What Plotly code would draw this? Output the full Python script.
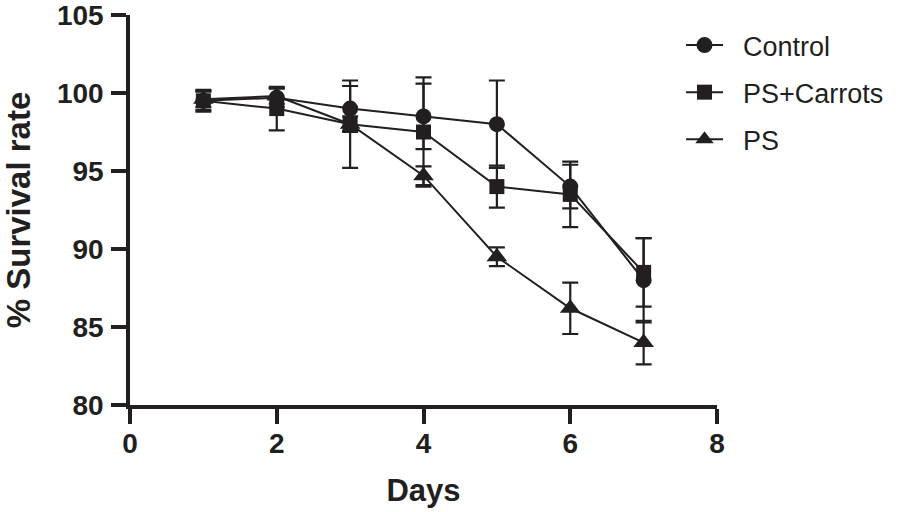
import plotly.graph_objects as go

days = [1, 2, 3, 4, 5, 6, 7]
control = [99.5, 99.7, 99.0, 98.5, 98.0, 94.0, 88.0]
control_err = [0.7, 0.6, 1.45, 2.1, 2.8, 1.4, 2.7]
carrots = [99.5, 99.0, 98.0, 97.5, 94.0, 93.5, 88.5]
carrots_err = [0.6, 1.4, 2.8, 3.5, 1.35, 2.1, 2.2]
ps = [99.6, 99.8, 98.0, 94.7, 89.5, 86.2, 84.0]
ps_err = [0.5, 0.5, 0.5, 0.6, 0.6, 1.65, 1.4]

series_names = ["Control", "PS+Carrots", "PS"]
x_ticks = [0, 2, 4, 6, 8]
y_ticks = [80, 85, 90, 95, 100, 105]

INK = "#231f20"
FONT = "Liberation Sans, Arial, Helvetica, sans-serif"
PAD = "\u00a0\u00a0"

series = [
    (series_names[0], control, control_err, "circle", 16),
    (series_names[1], carrots, carrots_err, "square", 15),
    (series_names[2], ps, ps_err, "triangle-up", 18),
]

fig = go.Figure()
for name, vals, errs, sym, size in series:
    fig.add_trace(go.Scatter(
        x=days, y=vals, name=PAD + name, mode="lines+markers", legendgroup=name,
        line=dict(color=INK, width=2),
        marker=dict(symbol=sym, size=size, color=INK, line=dict(width=0)),
        error_y=dict(type="data", array=errs, visible=True, color=INK,
                     thickness=2.2, width=8),
        cliponaxis=False,
    ))

fig.update_layout(
    width=904, height=512,
    margin=dict(l=130, r=187, t=15, b=107),
    paper_bgcolor="white", plot_bgcolor="white",
    font=dict(family=FONT, color=INK),
    showlegend=True,
    legend=dict(x=0.9387, y=0.9846, xanchor="left", yanchor="top",
                xref="paper", yref="paper",
                font=dict(family=FONT, size=27, color=INK),
                tracegroupgap=9,
                bgcolor="rgba(0,0,0,0)", itemwidth=37),
)
fig.update_xaxes(
    range=[0, 8], tickvals=x_ticks, ticktext=[str(t) for t in x_ticks],
    showline=True, linewidth=3.5, linecolor=INK, showgrid=False, zeroline=False,
    ticks="outside", ticklen=15, tickwidth=3.5, tickcolor=INK, ticklabelstandoff=-4,
    ticklabeloverflow="allow",
    tickfont=dict(family=FONT, size=28, color=INK, weight="bold"),
    title=dict(text="Days", font=dict(family=FONT, size=31, color=INK, weight="bold"),
               standoff=22),
    automargin=False,
)
fig.update_yaxes(
    range=[80, 105], tickvals=y_ticks, ticktext=[str(t) for t in y_ticks],
    showline=True, linewidth=3.5, linecolor=INK, showgrid=False, zeroline=False,
    ticks="outside", ticklen=15, tickwidth=3.5, tickcolor=INK, ticklabelstandoff=2,
    ticklabeloverflow="allow",
    tickfont=dict(family=FONT, size=28, color=INK, weight="bold"),
    title=dict(text="% Survival rate", font=dict(family=FONT, size=33, color=INK, weight="bold"),
               standoff=19),
    automargin=False,
)

fig.write_html("out.html", config={"displayModeBar": False},
               post_script="document.body.style.margin='0px';")
